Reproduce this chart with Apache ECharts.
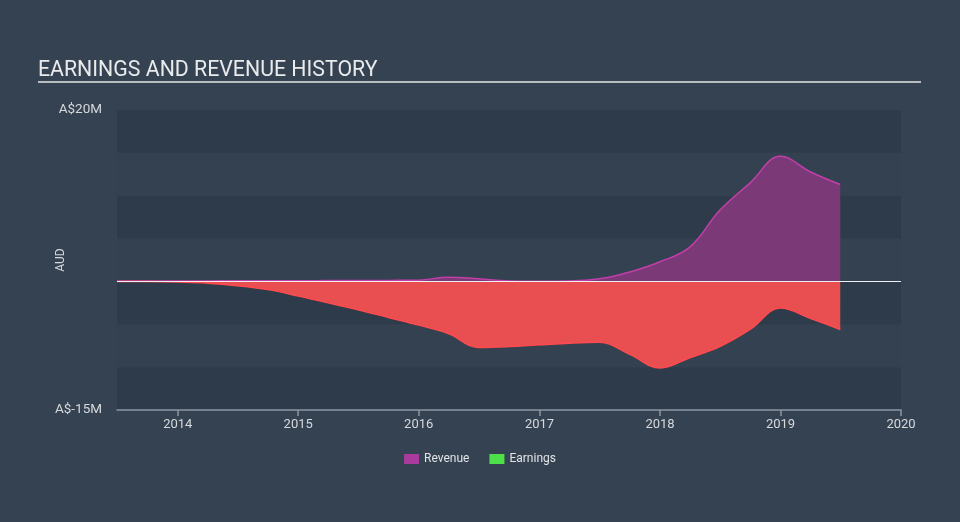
<!DOCTYPE html>
<html>
<head>
<meta charset="utf-8">
<script src="https://cdn.jsdelivr.net/npm/echarts@6/dist/echarts.min.js"></script>
<style>
html,body{margin:0;padding:0;background:#354252;}
#c{width:960px;height:522px;}
</style>
</head>
<body>
<div id="c"></div>
<script>
// Quarterly points (A$ millions)
const dates = ['2013-07-01','2013-10-01','2014-01-01','2014-04-01','2014-07-01','2014-10-01',
  '2015-01-01','2015-04-01','2015-07-01','2015-10-01','2016-01-01','2016-04-01','2016-07-01',
  '2016-10-01','2017-01-01','2017-04-01','2017-07-01','2017-10-01','2018-01-01','2018-04-01',
  '2018-07-01','2018-10-01','2019-01-01','2019-04-01','2019-07-01'];
const revenue = [0.05,0.05,0.05,0.06,0.07,0.08,0.08,0.1,0.1,0.12,0.15,0.5,0.3,0.05,0.02,0.05,
  0.3,1.1,2.3,4.0,8.3,11.5,14.6,12.8,11.3];
const earnings = [0,-0.02,-0.08,-0.2,-0.5,-0.95,-1.7,-2.5,-3.3,-4.2,-5.1,-6.1,-7.7,-7.6,-7.4,
  -7.2,-7.1,-8.5,-10.1,-8.9,-7.6,-5.6,-3.1,-4.3,-5.6];
const yTickLabels = {'20':'A$20M','-15':'A$-15M'};
const seriesNames = ['Revenue','Earnings'];

const chart = echarts.init(document.getElementById('c'));
const YEAR = 365.25*24*3600*1000;
chart.setOption({
  backgroundColor: '#354252',
  animation: false,
  title: {
    text: 'EARNINGS AND REVENUE HISTORY',
    left: 33, top: 55,
    textStyle: {color:'#e9eaec', fontSize: 21.3, fontWeight: 'normal', fontFamily: 'Roboto'}
  },
  graphic: [{
    type:'rect', shape:{x:38, y:81, width:883, height:2}, style:{fill:'#b9bdc2'}
  }],
  grid: {left:117, right:59, top:110, bottom:112},
  legend: {
    bottom: 52, left: 'center',
    itemWidth: 15, itemHeight: 10, itemGap: 20,
    icon: 'rect',
    textStyle: {color:'#e2e4e6', fontSize: 12, fontFamily:'Roboto'},
    data: [{name: seriesNames[0], itemStyle:{color:'#a93b9c'}},
           {name: seriesNames[1], itemStyle:{color:'#4de04b'}}]
  },
  xAxis: {
    type: 'time',
    min: '2013-07-01', max: '2020-01-01',
    minInterval: YEAR*0.99, maxInterval: YEAR*1.01,
    axisLine: {onZero:false, lineStyle:{color:'#8d97a2', width:1.5}},
    axisTick: {show:true, length:6, lineStyle:{color:'#8d97a2', width:1.5}},
    axisLabel: {color:'#d6d9dc', fontSize:13, fontFamily:'Roboto', margin:8,
      showMaxLabel: true, showMinLabel: false,
      formatter: v => String(new Date(v).getFullYear())},
    splitLine: {show:false}
  },
  yAxis: {
    type: 'value', min: -15, max: 20, interval: 5,
    name: 'AUD', nameLocation: 'middle', nameGap: 50, nameRotate: 90,
    nameMoveOverlap: false,
    nameTextStyle: {color:'#d6d9dc', fontSize:12, fontFamily:'Roboto'},
    axisLine: {show:false}, axisTick: {show:false},
    axisLabel: {color:'#d6d9dc', fontSize:13.5, fontFamily:'Roboto', margin:15,
      formatter: v => yTickLabels[String(v)] || ''},
    splitLine: {show:false},
    splitArea: {show:true, areaStyle:{color:['#2e3b4a','#344151']}}
  },
  series: [
    {
      name: seriesNames[0], type:'line', smooth: 0.4, symbol:'none',
      data: dates.map((d,i)=>[d, revenue[i]]),
      lineStyle: {color:'#c13fa9', width:1.5},
      itemStyle: {color:'#a93b9c'},
      areaStyle: {color:'#7b3a77', opacity:1},
      z: 2
    },
    {
      name: seriesNames[1], type:'line', smooth: 0.4, symbol:'none',
      data: dates.map((d,i)=>[d, earnings[i]]),
      lineStyle: {color:'#ff4b4e', width:1.5},
      itemStyle: {color:'#4de04b'},
      areaStyle: {color:'#e94e50', opacity:1},
      z: 2,
      markLine: {
        silent: true, symbol: 'none', label:{show:false},
        lineStyle: {color:'#f0f0f0', width:1, type:'solid'},
        data: [{yAxis: 0}]
      }
    }
  ]
});
</script>
</body>
</html>
